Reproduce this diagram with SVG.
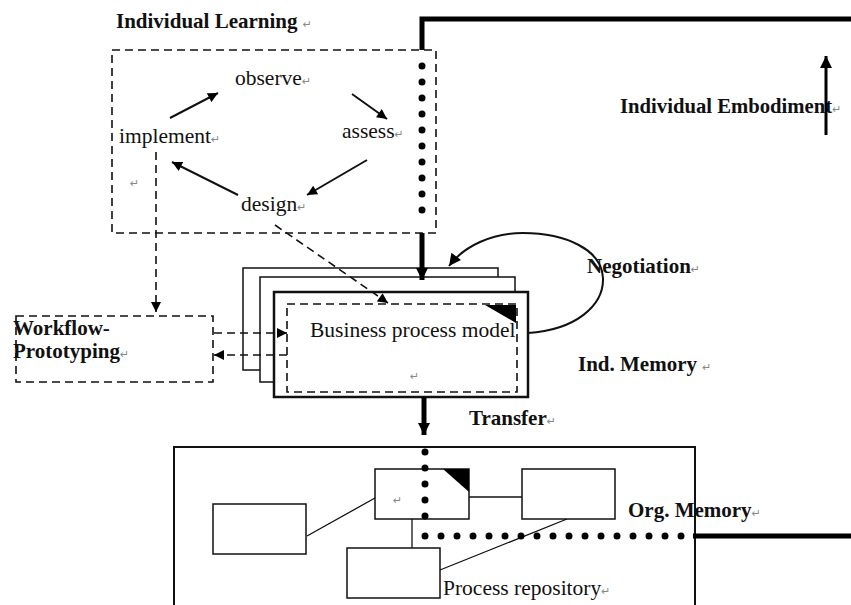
<svg xmlns="http://www.w3.org/2000/svg" width="851" height="605" viewBox="0 0 851 605">
<defs>
<marker id="ah" viewBox="0 0 10 10" refX="10" refY="5" markerWidth="11" markerHeight="10" markerUnits="userSpaceOnUse" orient="auto"><path d="M0,0 L10,5 L0,10 z" fill="#000"/></marker>
<marker id="ahb" viewBox="0 0 10 10" refX="10" refY="5" markerWidth="14" markerHeight="12" markerUnits="userSpaceOnUse" orient="auto"><path d="M0,0 L10,5 L0,10 z" fill="#000"/></marker>
</defs>
<style>
text{font-family:"Liberation Serif","Times New Roman",serif;font-size:21.5px;fill:#111}
.b{font-weight:bold;font-size:21px}
.rm{font-family:"DejaVu Sans",sans-serif;font-size:11px;fill:#888;font-weight:normal}
.dash{fill:none;stroke:#111;stroke-width:1.6;stroke-dasharray:8,5}
.thin{fill:none;stroke:#111;stroke-width:1.3}
.box{fill:#fff;stroke:#111;stroke-width:1.5}
.thick{fill:none;stroke:#000;stroke-width:5}
.dots{fill:none;stroke:#000;stroke-width:7;stroke-linecap:round;stroke-dasharray:0,16}
.arr{fill:none;stroke:#111;stroke-width:2}
</style>

<g id="individual-learning">
<rect class="dash" x="112" y="50" width="324" height="183"/>
<text class="b" x="116" y="28">Individual Learning <tspan class="rm">↵</tspan></text>
</g>
<g id="observe"><text x="235" y="85">observe<tspan class="rm">↵</tspan></text></g>
<g id="assess"><text x="342" y="138">assess<tspan class="rm">↵</tspan></text></g>
<g id="design"><text x="241" y="211">design<tspan class="rm">↵</tspan></text></g>
<g id="implement"><text x="119" y="143">implement<tspan class="rm">↵</tspan></text><text class="rm" x="130" y="187">↵</text></g>

<g id="workflow-prototyping">
<rect class="dash" x="16" y="316" width="197" height="66"/>
<text class="b" x="13" y="335">Workflow-</text>
<text class="b" x="13" y="358">Prototyping<tspan class="rm">↵</tspan></text>
</g>

<g id="business-process-model">
<rect class="box" x="243" y="268" width="255" height="102"/>
<rect class="box" x="260" y="277" width="255" height="105"/>
<rect x="274" y="292" width="254" height="105" fill="#fff" stroke="#111" stroke-width="2.5"/>
<rect class="dash" x="287" y="304" width="230" height="88"/>
<path d="M485,305 L516,305 L516,323 z" fill="#000"/>
<text x="310" y="337">Business process model</text>
<text class="rm" x="410" y="380">↵</text>
</g>

<g id="labels">
<text class="b" x="587" y="273">Negotiation<tspan class="rm">↵</tspan></text>
<text class="b" x="578" y="371">Ind. Memory <tspan class="rm">↵</tspan></text>
<text class="b" x="469" y="425">Transfer<tspan class="rm">↵</tspan></text>
<text class="b" x="620" y="113" style="font-size:20.7px">Individual Embodiment<tspan class="rm">↵</tspan></text>
</g>

<g id="process-repository">
<rect x="174" y="447" width="521" height="170" fill="#fff" stroke="#111" stroke-width="2"/>
<line class="thin" x1="307" y1="536" x2="375" y2="498"/>
<line class="thin" x1="469" y1="497" x2="522" y2="497"/>
<line class="thin" x1="412" y1="519" x2="412" y2="548"/>
<line class="thin" x1="440" y1="570" x2="567" y2="519"/>
<rect class="box" x="375" y="469" width="94" height="50"/>
<path d="M443,469 L469,469 L469,492 z" fill="#000"/>
<text class="rm" x="393" y="504">↵</text>
<rect class="box" x="213" y="504" width="93" height="50"/>
<rect class="box" x="522" y="469" width="93" height="50"/>
<rect class="box" x="347" y="548" width="93" height="50"/>
<text x="443" y="595">Process repository<tspan class="rm">↵</tspan></text>
<text class="b" x="628" y="517">Org. Memory<tspan class="rm">↵</tspan></text>
</g>

<g id="connectors">
<path class="thick" d="M422,50 V19 H851"/>
<path class="dots" d="M422,66 V226"/>
<path class="thick" d="M422,233 V280" marker-end="url(#ahb)"/>
<line class="arr" x1="170" y1="118" x2="218" y2="93" marker-end="url(#ah)"/>
<line class="arr" x1="352" y1="94" x2="387" y2="119" marker-end="url(#ah)"/>
<line class="arr" x1="367" y1="160" x2="307" y2="195" marker-end="url(#ah)"/>
<line class="arr" x1="238" y1="195" x2="172" y2="162" marker-end="url(#ah)"/>
<path class="dash" d="M156,152 V312" marker-end="url(#ah)"/>
<path class="dash" d="M275,225 L388,303" marker-end="url(#ah)"/>
<path class="dash" d="M214,333 H287" marker-end="url(#ah)"/>
<path class="dash" d="M287,355 H214" marker-end="url(#ah)"/>
<path class="arr" d="M528,333 C575,330 604,306 603,278 C602,250 566,233 523,233 C492,233 464,246 449,266" marker-end="url(#ahb)"/>
<line x1="826" y1="135" x2="826" y2="56" stroke="#000" stroke-width="3" marker-end="url(#ahb)"/>
<path class="thick" d="M424,397 V435" marker-end="url(#ahb)"/>
<path class="dots" d="M425,452 V517"/>
<path class="dots" d="M425,536 H685"/>
<path class="thick" d="M693,536 H851"/>
</g>
</svg>
